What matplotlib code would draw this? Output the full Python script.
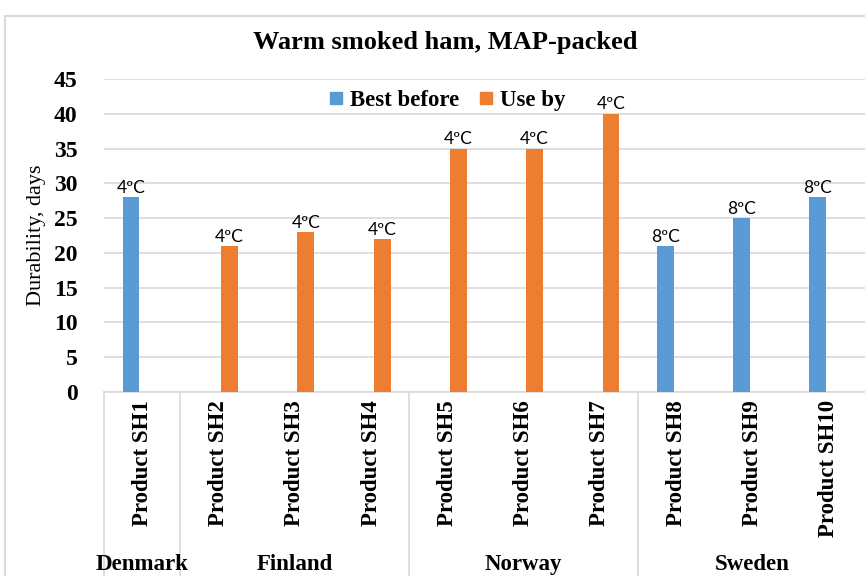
import numpy as np
import matplotlib.pyplot as plt
from matplotlib.lines import Line2D
from matplotlib.patches import Rectangle

# data
products = ['Product SH1', 'Product SH2', 'Product SH3', 'Product SH4', 'Product SH5',
            'Product SH6', 'Product SH7', 'Product SH8', 'Product SH9', 'Product SH10']
best_before = [28, np.nan, np.nan, np.nan, np.nan, np.nan, np.nan, 21, 25, 28]
use_by = [np.nan, 21, 23, 22, 35, 35, 40, np.nan, np.nan, np.nan]
temps = ['4ºC', '4ºC', '4ºC', '4ºC', '4ºC', '4ºC', '4ºC', '8ºC', '8ºC', '8ºC']
countries = ['Denmark', 'Finland', 'Norway', 'Sweden']
group_sizes = [1, 3, 3, 3]

blue = '#5B9BD5'
orange = '#ED7D31'
grid_c = '#D9D9D9'
serif = 'Liberation Serif'
sans = 'Lato'

fig = plt.figure(figsize=(8.65, 5.76), dpi=100)
ax = fig.add_axes([104 / 865, 184 / 576, 763 / 865, 313 / 576])

x = np.arange(len(products))
off = 0.145
w = 0.22
ax.bar(x - off, best_before, w, color=blue, label='Best before', zorder=3)
ax.bar(x + off, use_by, w, color=orange, label='Use by', zorder=3)

# temperature labels over the bars
for i in range(len(products)):
    if not np.isnan(best_before[i]):
        ax.text(x[i] - off, best_before[i] + 0.2, temps[i], ha='center', va='bottom',
                fontsize=12.5, family=sans)
    if not np.isnan(use_by[i]):
        ax.text(x[i] + off, use_by[i] + 0.2, temps[i], ha='center', va='bottom',
                fontsize=12.5, family=sans)

ax.set_xlim(-0.5, len(products) - 0.5)
ax.set_ylim(0, 45)
ax.set_yticks(np.arange(0, 46, 5))
ax.yaxis.grid(True, color=grid_c, lw=1.2, zorder=0)
ax.set_axisbelow(True)
for s in ['top', 'right', 'left']:
    ax.spines[s].set_visible(False)
ax.spines['bottom'].set_color(grid_c)
ax.spines['bottom'].set_linewidth(1.2)
ax.tick_params(axis='y', length=0, pad=19)
ax.tick_params(axis='x', length=0)
for lab in ax.get_yticklabels():
    lab.set_family(serif)
    lab.set_fontweight('bold')
    lab.set_fontsize(17)

ax.set_xticks(x)
ax.set_xticklabels([])
tr = ax.get_xaxis_transform()
for i, p in enumerate(products):
    ax.text(x[i], -0.025, p, rotation=90, ha='center', va='top', transform=tr,
            family=serif, fontweight='bold', fontsize=16.5, clip_on=False)

# country groups and separators
edges = np.concatenate([[0], np.cumsum(group_sizes)]) - 0.5
for e in edges:
    ax.plot([e, e], [0, -0.7], transform=tr, color=grid_c, lw=1.2, clip_on=False)
for k, c in enumerate(countries):
    mid = (edges[k] + edges[k + 1]) / 2
    ax.text(mid, -0.585, c, ha='center', va='bottom', transform=tr,
            family=serif, fontweight='bold', fontsize=16.5, clip_on=False)

ax.set_ylabel('Durability, days', family=serif, fontsize=16, labelpad=6)

handles = [Line2D([], [], marker='s', ls='', color=blue, markersize=9),
           Line2D([], [], marker='s', ls='', color=orange, markersize=9)]
ax.legend(handles, ['Best before', 'Use by'], loc='center', bbox_to_anchor=(0.447, 0.93),
          ncol=2, frameon=False, prop={'family': serif, 'weight': 'bold', 'size': 16.5},
          handletextpad=0.1, columnspacing=0.7, handlelength=1.0)

fig.text(445 / 865, 1 - 43 / 576, 'Warm smoked ham, MAP-packed', ha='center', va='center',
         family=serif, fontweight='bold', fontsize=19)

# outer chart border
fig.patches.append(Rectangle((5 / 865, -0.1), 1.2, 1 - 16 / 576 + 0.1, transform=fig.transFigure,
                             fill=False, edgecolor=grid_c, lw=1.5))

fig.savefig('out.png', dpi=100)
